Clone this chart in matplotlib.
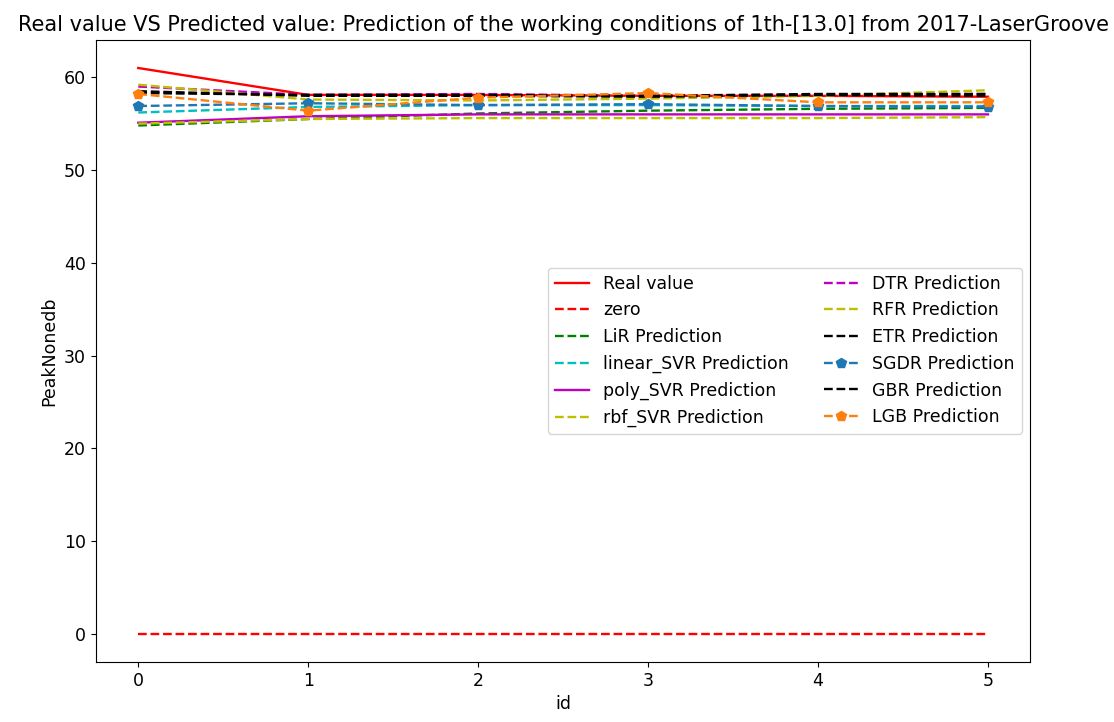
import numpy as np
import matplotlib
matplotlib.use("Agg")
import matplotlib.pyplot as plt

# ---- data ----
ids = [0, 1, 2, 3, 4, 5]
real_value = [61.0, 58.1, 58.1, 58.0, 58.0, 57.9]
zero = [0, 0, 0, 0, 0, 0]
lir_pred = [54.8, 55.5, 56.1, 56.4, 56.6, 56.7]
linear_svr_pred = [56.2, 56.8, 57.0, 57.0, 56.9, 56.9]
poly_svr_pred = [55.1, 55.8, 56.0, 56.0, 56.0, 56.0]
rbf_svr_pred = [55.0, 55.5, 55.6, 55.6, 55.6, 55.7]
dtr_pred = [59.0, 58.1, 58.2, 58.0, 58.1, 58.2]
rfr_pred = [59.2, 57.6, 57.5, 57.7, 58.0, 58.6]
etr_pred = [58.3, 58.1, 58.1, 58.0, 58.2, 58.2]
sgdr_pred = [56.9, 57.2, 57.0, 57.1, 56.9, 56.8]
gbr_pred = [58.5, 58.0, 58.0, 57.9, 58.1, 58.0]
lgb_pred = [58.2, 56.4, 57.8, 58.3, 57.3, 57.3]

plt.rcParams["font.size"] = 12.5
plt.rcParams["lines.linewidth"] = 1.7

fig = plt.figure(figsize=(11.14, 7.22), dpi=100)
ax = fig.add_axes([0.086, 0.083, 0.839, 0.862])

ax.plot(ids, real_value, "r-", label="Real value")
ax.plot(ids, zero, "r--", label="zero")
ax.plot(ids, lir_pred, "g--", label="LiR Prediction")
ax.plot(ids, linear_svr_pred, "c--", label="linear_SVR Prediction")
ax.plot(ids, poly_svr_pred, "m-", label="poly_SVR Prediction")
ax.plot(ids, rbf_svr_pred, "y--", label="rbf_SVR Prediction")
ax.plot(ids, dtr_pred, "m--", label="DTR Prediction")
ax.plot(ids, rfr_pred, "y--", label="RFR Prediction")
ax.plot(ids, etr_pred, "k--", label="ETR Prediction")
ax.plot(ids, sgdr_pred, "p--", color="#1f77b4", markersize=7, label="SGDR Prediction")
ax.plot(ids, gbr_pred, "k--", label="GBR Prediction")
ax.plot(ids, lgb_pred, "p--", color="#ff7f0e", markersize=7, label="LGB Prediction")

ax.set_xlabel("id")
ax.set_ylabel("PeakNonedb")
ax.set_title("Real value VS Predicted value: Prediction of the working conditions of 1th-[13.0] from 2017-LaserGroove")
ax.legend(loc="center right", ncol=2)

fig.savefig("out.png", dpi=100)
